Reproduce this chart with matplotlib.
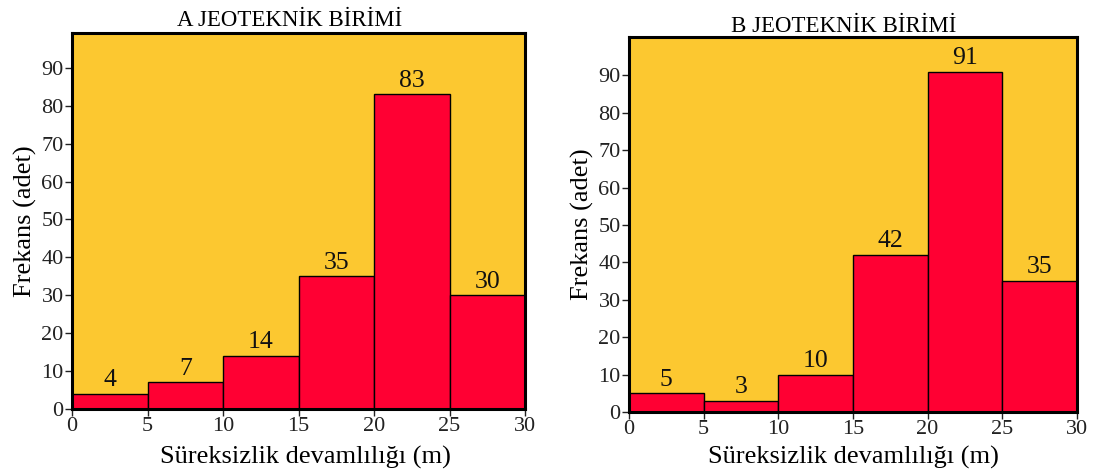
import matplotlib
matplotlib.use("Agg")
import matplotlib.pyplot as plt

# Persistence classes (m) and frequencies for the two geotechnical units
bin_edges = [0, 5, 10, 15, 20, 25, 30]
freq_a = [4, 7, 14, 35, 83, 30]
freq_b = [5, 3, 10, 42, 91, 35]
titles = ["A JEOTEKNİK BİRİMİ", "B JEOTEKNİK BİRİMİ"]
xlabel = "Süreksizlik devamlılığı (m)"
ylabel = "Frekans (adet)"
yticks = [0, 10, 20, 30, 40, 50, 60, 70, 80, 90]

plt.rcParams['font.family'] = ['Liberation Serif', 'DejaVu Serif']

BG = '#FCC830'
BAR = '#FF0033'

fig = plt.figure(figsize=(10.95, 4.70), dpi=100)
axes = [fig.add_axes([0.0658, 0.1298, 0.4137, 0.800]),
        fig.add_axes([0.5744, 0.1234, 0.4091, 0.798])]
ylims = [99.2, 100.3]
title_pads = [5, 2]
xlabel_pads = [7, 5]
xlabel_x = [0.515, 0.5]

for i, (ax, freq, title) in enumerate(zip(axes, [freq_a, freq_b], titles)):
    ax.set_facecolor(BG)
    lefts = bin_edges[:-1]
    widths = [b - a for a, b in zip(bin_edges[:-1], bin_edges[1:])]
    bars = ax.bar(lefts, freq, width=widths, align='edge', color=BAR,
                  edgecolor='black', linewidth=1.0, zorder=2)
    ax.bar_label(bars, labels=[str(v) for v in freq], padding=2,
                 fontsize=18.5, color='#111111')
    ax.set_xlim(bin_edges[0], bin_edges[-1])
    ax.set_ylim(0, ylims[i])
    ax.set_xticks(bin_edges)
    ax.set_yticks(yticks)
    ax.tick_params(axis='both', labelsize=16, direction='out', length=5,
                   width=1.0, pad=1, colors='#222222')
    for sp in ax.spines.values():
        sp.set_linewidth(2.2)
        sp.set_color('black')
    ax.set_title(title, fontsize=16.5, pad=title_pads[i], x=0.48)
    ax.set_xlabel(xlabel, fontsize=19, labelpad=xlabel_pads[i], x=xlabel_x[i])
    ax.set_ylabel(ylabel, fontsize=19, labelpad=3)

fig.savefig("out.png", dpi=100, facecolor='white')
